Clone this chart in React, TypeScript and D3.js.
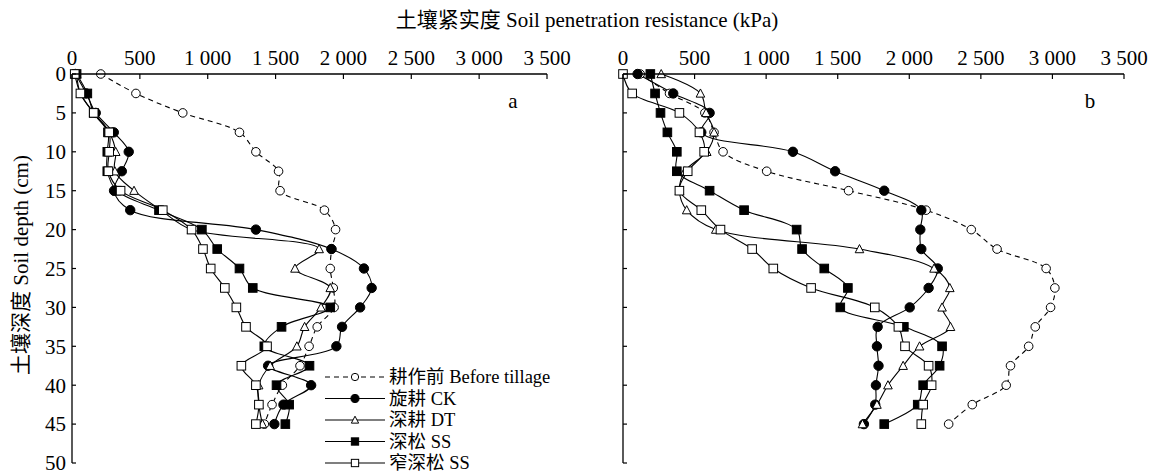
import React from "react";
import * as d3 from "d3";

const depths = [0, 2.5, 5, 7.5, 10, 12.5, 15, 17.5, 20, 22.5, 25, 27.5, 30, 32.5, 35, 37.5, 40, 42.5, 45];
const xTicks = [0, 500, 1000, 1500, 2000, 2500, 3000, 3500];
const yTicks = [0, 5, 10, 15, 20, 25, 30, 35, 40, 45, 50];
const seriesNames = ["耕作前 Before tillage", "旋耕 CK", "深耕 DT", "深松 SS", "窄深松 SS"];

const aBefore = [212, 471, 816, 1234, 1355, 1522, 1533, 1860, 1942, 1914, 1903, 1925, 1931, 1807, 1747, 1680, 1550, 1474, 1417];
const aCK = [25, 105, 175, 308, 418, 367, 310, 429, 1355, 1911, 2151, 2208, 2123, 1990, 1948, 1445, 1762, 1558, 1491];
const aDT = [34, 62, 160, 274, 322, 316, 457, 655, 881, 1821, 1643, 1903, 1835, 1714, 1657, 1460, 1375, 1377, 1403];
const aSS = [34, 113, 160, 265, 260, 260, 330, 641, 957, 1070, 1234, 1332, 1903, 1544, 1417, 1750, 1507, 1600, 1572];
const aNSS = [20, 62, 160, 274, 274, 268, 358, 669, 881, 965, 1022, 1126, 1211, 1282, 1437, 1248, 1355, 1377, 1355];

const bBefore = [120, 325, 572, 636, 699, 1004, 1576, 2117, 2433, 2613, 2956, 3017, 2987, 2880, 2834, 2707, 2677, 2440, 2275];
const bCK = [102, 351, 605, 547, 1187, 1482, 1825, 2084, 2077, 2084, 2199, 2135, 2003, 1779, 1774, 1785, 1767, 1762, 1683];
const bDT = [267, 541, 580, 636, 585, 432, 394, 445, 648, 1652, 2173, 2283, 2229, 2288, 2072, 1957, 1851, 1774, 1673];
const bSS = [191, 224, 262, 310, 376, 376, 605, 846, 1213, 1251, 1406, 1571, 1518, 1962, 2229, 2212, 2097, 2059, 1825];
const bNSS = [0, 64, 394, 534, 567, 452, 394, 547, 681, 902, 1050, 1314, 1759, 1924, 1970, 2135, 2156, 2097, 2084];

const FONT = "'Liberation Serif', 'Times New Roman', 'Noto Sans CJK SC', serif";
const FS = 21;
const LFS = 18.5;

type Kind = "openCircle" | "circle" | "triangle" | "square" | "openSquare";
const kinds: Kind[] = ["openCircle", "circle", "triangle", "square", "openSquare"];

function Marker({ kind, x, y, s = 1 }: { kind: Kind; x: number; y: number; s?: number }) {
  const r = 4.3 * s;
  if (kind === "openCircle") return <circle cx={x} cy={y} r={r} fill="#fff" stroke="#000" strokeWidth={1} />;
  if (kind === "circle") return <circle cx={x} cy={y} r={r + 0.4} fill="#000" stroke="#000" strokeWidth={1} />;
  if (kind === "square")
    return <rect x={x - r} y={y - r} width={2 * r} height={2 * r} fill="#000" stroke="#000" strokeWidth={1} />;
  if (kind === "openSquare")
    return <rect x={x - r} y={y - r} width={2 * r} height={2 * r} fill="#fff" stroke="#000" strokeWidth={1} />;
  const h = r * 1.9;
  const pts = `${x},${y - h * 0.55} ${x - r},${y + h * 0.45} ${x + r},${y + h * 0.45}`;
  return <polygon points={pts} fill="#fff" stroke="#000" strokeWidth={1} />;
}

function Panel({ x0, x1, series, label }: { x0: number; x1: number; series: number[][]; label: string }) {
  const xs = d3.scaleLinear().domain([0, 3500]).range([x0, x1]);
  const ys = d3.scaleLinear().domain([0, 50]).range([74, 463]);
  const line = d3
    .line<[number, number]>()
    .x((d) => xs(d[0]))
    .y((d) => ys(d[1]))
    .curve(d3.curveCatmullRom.alpha(0.5));
  return (
    <g>
      {series.map((vals, i) => {
        const pts = vals.map((v, j) => [v, depths[j]] as [number, number]);
        return (
          <path
            key={"l" + i}
            d={line(pts) || ""}
            fill="none"
            stroke="#000"
            strokeWidth={1.1}
            strokeDasharray={i === 0 ? "5,4" : undefined}
          />
        );
      })}
      {series.map((vals, i) =>
        vals.map((v, j) => <Marker key={`m${i}-${j}`} kind={kinds[i]} x={xs(v)} y={ys(depths[j])} />)
      )}
      <line x1={x0} x2={x1} y1={74} y2={74} stroke="#000" strokeWidth={1.3} />
      <line x1={x0} x2={x0} y1={74} y2={463} stroke="#000" strokeWidth={1.3} />
      {xTicks.map((t) => (
        <line key={"xt" + t} x1={xs(t)} x2={xs(t)} y1={74} y2={79} stroke="#000" strokeWidth={1.2} />
      ))}
      {yTicks.map((t) => (
        <line key={"yt" + t} x1={x0} x2={x0 + 4} y1={ys(t)} y2={ys(t)} stroke="#000" strokeWidth={1.2} />
      ))}
      {xTicks.map((t) => (
        <text key={"xl" + t} x={xs(t)} y={65} textAnchor="middle" fontFamily={FONT} fontSize={FS}>
          {d3.format(",")(t).replace(",", " ")}
        </text>
      ))}
      <text x={xs(3500) - 34} y={108} textAnchor="middle" fontFamily={FONT} fontSize={FS}>
        {label}
      </text>
    </g>
  );
}

export default function App() {
  const ysA = d3.scaleLinear().domain([0, 50]).range([74, 463]);
  const legendY = d3.scaleLinear().domain([0, 4]).range([377, 463]);
  return (
    <svg
      width={1151}
      height={476}
      style={{ position: "absolute", left: 0, top: 0, background: "#fff", display: "block" }}
    >
      <rect x={0} y={0} width={1151} height={476} fill="#fff" />
      <text x={587} y={27} textAnchor="middle" fontFamily={FONT} fontSize={FS}>
        土壤紧实度 Soil penetration resistance (kPa)
      </text>
      <text
        transform={`translate(28,265) rotate(-90)`}
        textAnchor="middle"
        fontFamily={FONT}
        fontSize={FS}
      >
        土壤深度 Soil depth (cm)
      </text>
      {yTicks.map((t) => (
        <text
          key={"yl" + t}
          x={66}
          y={ysA(t)}
          dy="0.35em"
          textAnchor="end"
          fontFamily={FONT}
          fontSize={FS}
        >
          {t}
        </text>
      ))}
      <Panel x0={72} x1={547} series={[aBefore, aCK, aDT, aSS, aNSS]} label="a" />
      <Panel x0={623} x1={1124} series={[bBefore, bCK, bDT, bSS, bNSS]} label="b" />
      {seriesNames.map((name, i) => {
        const y = legendY(i);
        return (
          <g key={"lg" + i}>
            <line
              x1={325}
              x2={385}
              y1={y}
              y2={y}
              stroke="#000"
              strokeWidth={1.1}
              strokeDasharray={i === 0 ? "5,4" : undefined}
            />
            <Marker kind={kinds[i]} x={355} y={y} s={0.85} />
            <text x={389} y={y} dy="0.35em" fontFamily={FONT} fontSize={LFS}>
              {name}
            </text>
          </g>
        );
      })}
    </svg>
  );
}
